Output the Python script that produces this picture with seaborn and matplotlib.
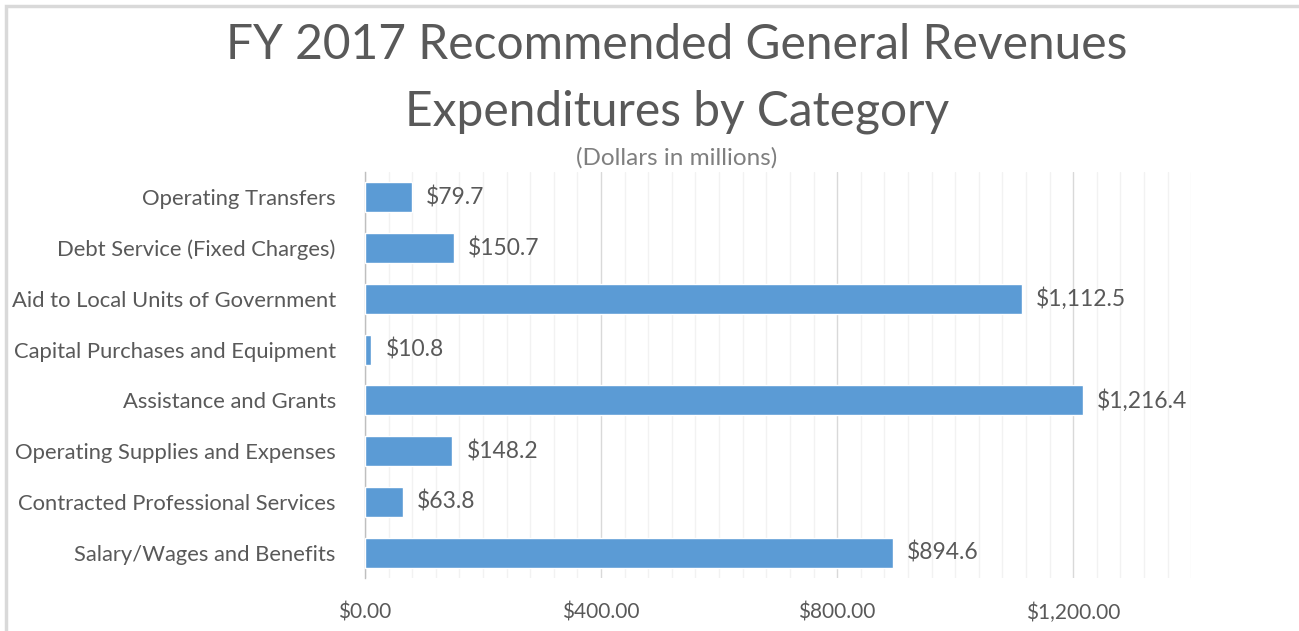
import numpy as np
import pandas as pd
import matplotlib
matplotlib.use("Agg")
import matplotlib.pyplot as plt
import seaborn as sns
from matplotlib.ticker import FuncFormatter, MultipleLocator
from matplotlib.patches import Rectangle

categories = [
    "Operating Transfers",
    "Debt Service (Fixed Charges)",
    "Aid to Local Units of Government",
    "Capital Purchases and Equipment",
    "Assistance and Grants",
    "Operating Supplies and Expenses",
    "Contracted Professional Services",
    "Salary/Wages and Benefits",
]
amounts = [79.7, 150.7, 1112.5, 10.8, 1216.4, 148.2, 63.8, 894.6]
x_ticks = [0, 400, 800, 1200]

TEXT = "#595959"
BAR = "#5B9BD5"

sns.set_style("white")
plt.rcParams["font.family"] = ["Lato", "DejaVu Sans"]

df = pd.DataFrame({"category": categories, "amount": amounts})

fig = plt.figure(figsize=(12.99, 6.31), dpi=100)
ax = fig.add_axes([0.281, 0.084, 0.636, 0.6434])

sns.barplot(data=df, x="amount", y="category", orient="h", color=BAR,
            width=0.59, saturation=1, ax=ax, zorder=3)

ax.set_xlim(0, 1400)
ax.set_ylim(len(categories) - 0.5, -0.5)
ax.xaxis.set_major_locator(MultipleLocator(400))
ax.xaxis.set_minor_locator(MultipleLocator(40))
ax.xaxis.set_major_formatter(FuncFormatter(lambda v, p: f"${v:,.2f}"))
ax.set_xticks(x_ticks)

ax.grid(axis="x", which="major", color="#D9D9D9", linewidth=1, zorder=0)
ax.grid(axis="x", which="minor", color="#F2F2F2", linewidth=1, zorder=0)
ax.set_axisbelow(True)

for s in ["top", "right", "bottom"]:
    ax.spines[s].set_visible(False)
ax.spines["left"].set_color("#BFBFBF")
ax.spines["left"].set_linewidth(1)

# category boundary ticks on the left axis
ax.set_yticks(np.arange(len(categories)))
ax.set_yticks(np.arange(len(categories) + 1) - 0.5, minor=True)
ax.tick_params(axis="y", which="major", length=0, pad=21, labelsize=15.8,
               labelcolor=TEXT)
ax.tick_params(axis="y", which="minor", length=7, width=1, color="#BFBFBF",
               direction="out")
ax.tick_params(axis="x", which="major", length=7, width=1, color="#D9D9D9",
               pad=11, labelsize=15, labelcolor=TEXT, direction="out")
ax.tick_params(axis="x", which="minor", length=7, width=1, color="#F2F2F2",
               direction="out")
ax.set_xlabel("")
ax.set_ylabel("")

for i, v in enumerate(amounts):
    ax.text(v + 24, i, f"${v:,.1f}", va="center", ha="left",
            fontsize=16.5, color=TEXT)

cx = 677 / 1299
fig.text(cx, 1 - 45 / 631, "FY 2017 Recommended General Revenues",
         ha="center", va="center", fontsize=34.5, color=TEXT)
fig.text(cx, 1 - 112 / 631, "Expenditures by Category",
         ha="center", va="center", fontsize=34.5, color=TEXT)
fig.text(cx, 1 - 158 / 631, "(Dollars in millions)",
         ha="center", va="center", fontsize=17.5, color="#7F7F7F")

fig.patches.append(Rectangle((6 / 1299, -0.1), 1.2, 1 - 6 / 631 + 0.1,
                             transform=fig.transFigure, fill=False,
                             edgecolor="#D9D9D9", linewidth=2.5))

fig.savefig("out.png", dpi=100)
